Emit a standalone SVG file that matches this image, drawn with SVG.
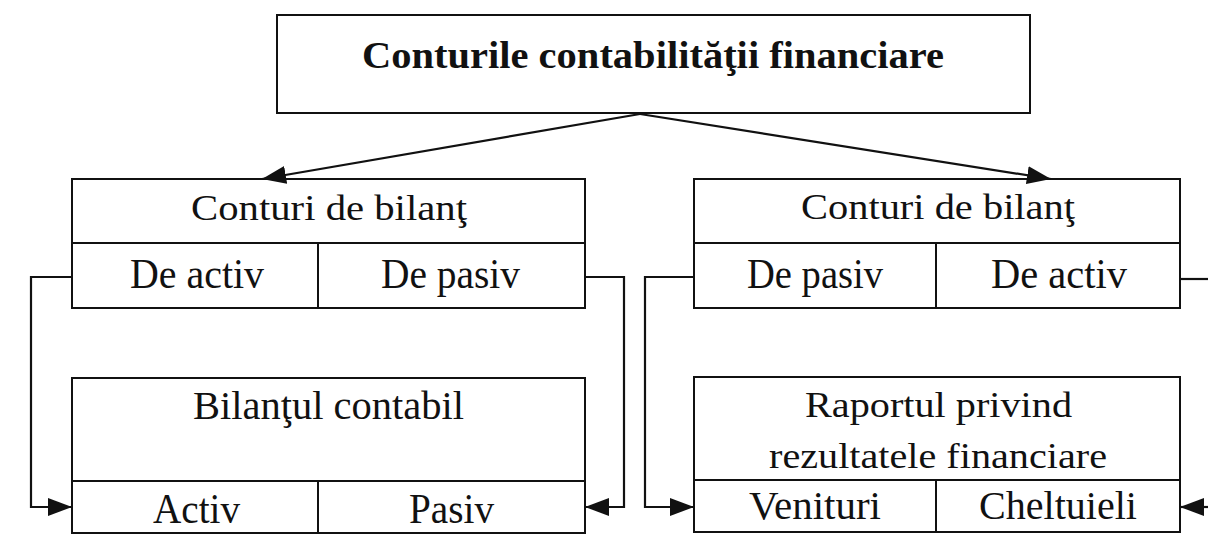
<svg xmlns="http://www.w3.org/2000/svg" width="1208" height="555" viewBox="0 0 1208 555">
<style>
.box{fill:#fff;stroke:#111;stroke-width:2}
.ln{fill:none;stroke:#111;stroke-width:2}
.t{font-family:"Liberation Serif","Times New Roman",serif;font-size:36px;fill:#111}
.tl{font-size:42px}
.tm{font-size:39px}
.tb{font-family:"Liberation Serif","Times New Roman",serif;font-size:38px;font-weight:bold;fill:#111}
.con{fill:none;stroke:#111;stroke-width:2.2}
</style>
<defs>
<marker id="ah" viewBox="0 0 24 18" refX="24" refY="9" markerWidth="24" markerHeight="18" markerUnits="userSpaceOnUse" orient="auto">
<path d="M0,0 L24,9 L0,18 z" fill="#111"/>
</marker>
</defs>
<rect width="1208" height="555" fill="#fff"/>
<g id="root">
<rect class="box" x="277" y="15" width="753" height="98"/>
<text class="tb" x="362" y="68" textLength="582" lengthAdjust="spacingAndGlyphs">Conturile contabilităţii financiare</text>
</g>
<g id="bilant-left">
<rect class="box" x="72" y="179" width="513" height="129"/>
<line class="ln" x1="72" y1="243" x2="585" y2="243"/>
<line class="ln" x1="318" y1="243" x2="318" y2="308"/>
<text class="t" x="191" y="220" textLength="276" lengthAdjust="spacingAndGlyphs">Conturi de bilanţ</text>
<text class="t tl" x="130" y="288" textLength="134" lengthAdjust="spacingAndGlyphs">De activ</text>
<text class="t tl" x="381" y="288" textLength="139" lengthAdjust="spacingAndGlyphs">De pasiv</text>
</g>
<g id="bilant-right">
<rect class="box" x="694" y="179" width="486" height="129"/>
<line class="ln" x1="694" y1="243" x2="1180" y2="243"/>
<line class="ln" x1="936" y1="243" x2="936" y2="308"/>
<text class="t" x="801" y="219" textLength="274" lengthAdjust="spacingAndGlyphs">Conturi de bilanţ</text>
<text class="t tl" x="747" y="288" textLength="136" lengthAdjust="spacingAndGlyphs">De pasiv</text>
<text class="t tl" x="991" y="288" textLength="136" lengthAdjust="spacingAndGlyphs">De activ</text>
</g>
<g id="bilantul-contabil">
<rect class="box" x="72" y="378" width="513" height="155"/>
<line class="ln" x1="72" y1="481" x2="585" y2="481"/>
<line class="ln" x1="318" y1="481" x2="318" y2="533"/>
<text class="t tm" x="193" y="419" textLength="271" lengthAdjust="spacingAndGlyphs">Bilanţul contabil</text>
<text class="t tl" x="153" y="523" textLength="87" lengthAdjust="spacingAndGlyphs">Activ</text>
<text class="t tl" x="409" y="523" textLength="85" lengthAdjust="spacingAndGlyphs">Pasiv</text>
</g>
<g id="raportul">
<rect class="box" x="694" y="377" width="486" height="155"/>
<line class="ln" x1="694" y1="480" x2="1180" y2="480"/>
<line class="ln" x1="936" y1="480" x2="936" y2="532"/>
<text class="t" x="805" y="417" textLength="267" lengthAdjust="spacingAndGlyphs">Raportul privind</text>
<text class="t" x="769" y="468" textLength="338" lengthAdjust="spacingAndGlyphs">rezultatele financiare</text>
<text class="t tm" x="749" y="519" textLength="132" lengthAdjust="spacingAndGlyphs">Venituri</text>
<text class="t tm" x="979" y="519" textLength="158" lengthAdjust="spacingAndGlyphs">Cheltuieli</text>
</g>
<g id="connectors">
<line class="con" x1="640" y1="114" x2="262" y2="179" marker-end="url(#ah)"/>
<line class="con" x1="640" y1="114" x2="1051" y2="179" marker-end="url(#ah)"/>
<polyline class="con" points="72,277 31,277 31,507 72,507" marker-end="url(#ah)"/>
<polyline class="con" points="585,277 624,277 624,507 585,507" marker-end="url(#ah)"/>
<polyline class="con" points="694,277 645,277 645,507 694,507" marker-end="url(#ah)"/>
<line class="con" x1="1180" y1="279" x2="1208" y2="279"/>
<line class="con" x1="1210" y1="507" x2="1180" y2="507" marker-end="url(#ah)"/>
</g>
</svg>
